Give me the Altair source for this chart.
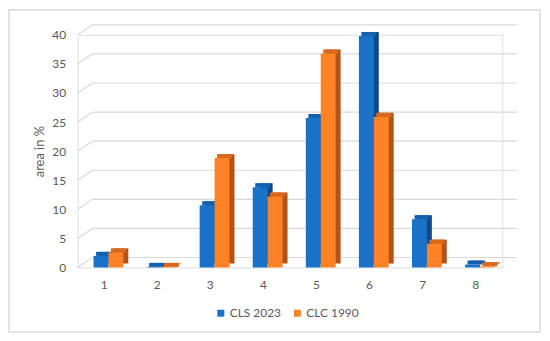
import altair as alt
import pandas as pd

categories = ["1", "2", "3", "4", "5", "6", "7", "8"]
series = ["CLS 2023", "CLC 1990"]
cls_2023 = [2.0, 0.1, 10.7, 13.8, 25.7, 39.8, 8.3, 0.5]
clc_1990 = [2.6, 0.1, 18.8, 12.2, 36.8, 25.9, 4.1, 0.2]
y_ticks = [0, 5, 10, 15, 20, 25, 30, 35, 40]

front_colors = ["#1a72c8", "#ff8324"]
top_colors = ["#1660b0", "#d9681c"]
side_colors = ["#0e4a8a", "#b3531a"]
bar_offsets = [-3.2, 11.8]

rows = []
for i, c in enumerate(categories):
    rows.append({"cat": c, "series": series[0], "val": cls_2023[i]})
    rows.append({"cat": c, "series": series[1], "val": clc_1990[i]})
df = pd.DataFrame(rows)
one = pd.DataFrame({"a": [0]})

FONT = "Lato"
TXT = "#595959"
GRID = "#d9d9d9"
W, H = 427, 234
WALL_DX, WALL_DY = 15, 10
DEPTH = WALL_DY * 40 / H  # back-wall lift expressed in data units

# gridline paths: front-left corner -> back-left corner -> back-right corner
grid_rows = []
for v in y_ticks:
    grid_rows.append({"v": v, "k": 0, "gx": 0, "gy": v})
    grid_rows.append({"v": v, "k": 1, "gx": WALL_DX, "gy": v + DEPTH})
    grid_rows.append({"v": v, "k": 2, "gx": W + WALL_DX, "gy": v + DEPTH})
grid_df = pd.DataFrame(grid_rows)

xscale = alt.Scale(domain=categories, paddingInner=0.438, paddingOuter=0.219)
yscale = alt.Scale(domain=[0, 40], nice=False)

x_axis = alt.Axis(title=None, labelAngle=0, domain=False, ticks=False, grid=False,
                  labelPadding=12, labelFont=FONT, labelFontSize=12, labelColor=TXT)
y_axis = alt.Axis(values=y_ticks, grid=False, domain=False, ticks=False,
                  labelPadding=12, labelFont=FONT, labelFontSize=12,
                  labelColor=TXT, title="area in %", titleFont=FONT,
                  titleFontSize=13, titleFontWeight="normal",
                  titleColor=TXT, titlePadding=5)

X = alt.X("cat:N", scale=xscale, sort=categories, axis=x_axis)
Y = alt.Y("val:Q", scale=yscale, axis=y_axis)

border = alt.Chart(one).mark_rect(fill=None, stroke=GRID, strokeWidth=1.5).encode(
    x=alt.value(-69), x2=alt.value(465), y=alt.value(-25), y2=alt.value(299)
)

grid = alt.Chart(grid_df).mark_line(color=GRID, strokeWidth=1.2).encode(
    x=alt.X("gx:Q", scale=alt.Scale(domain=[0, W], nice=False, zero=False), axis=None),
    y=alt.Y("gy:Q", scale=yscale, axis=y_axis),
    detail="v:N",
    order="k:Q",
)

bar_layers = []
for i, s in enumerate(series):
    base = alt.Chart(df).transform_filter(alt.datum.series == s)
    side = base.mark_bar(width=15, xOffset=bar_offsets[i] + 5, yOffset=-4, y2Offset=-4,
                         color=side_colors[i]).encode(
        x=X, y=Y, y2=alt.datum(0),
    )
    top = base.mark_bar(width=15, xOffset=bar_offsets[i] + 2.5, yOffset=-4, y2Offset=0,
                        color=top_colors[i]).encode(
        x=X, y=Y, y2=alt.Y2("val:Q"),
    )
    bar_layers += [side, top]

for i, s in enumerate(series):
    base = alt.Chart(df).transform_filter(alt.datum.series == s)
    front = base.mark_bar(width=15, xOffset=bar_offsets[i]).encode(
        x=X, y=Y,
        color=alt.Color("series:N", scale=alt.Scale(domain=series, range=front_colors),
                        legend=alt.Legend(title=None, orient="none", legendX=138,
                                          legendY=274, direction="horizontal",
                                          symbolType="square", symbolSize=49,
                                          symbolStrokeWidth=0, labelFont=FONT,
                                          labelFontSize=12, labelColor=TXT,
                                          labelOffset=3, columnPadding=10)),
    )
    bar_layers.append(front)

bars = alt.layer(*bar_layers)

chart = alt.layer(border, grid, bars).resolve_scale(x="independent").properties(
    width=W, height=H,
    autosize=alt.AutoSizeParams(type="none"),
    padding={"left": 70, "top": 26, "right": 40, "bottom": 70},
).configure_view(stroke=None).configure(background="white")

chart.save("out.html", embed_options={"renderer": "svg", "actions": False})
